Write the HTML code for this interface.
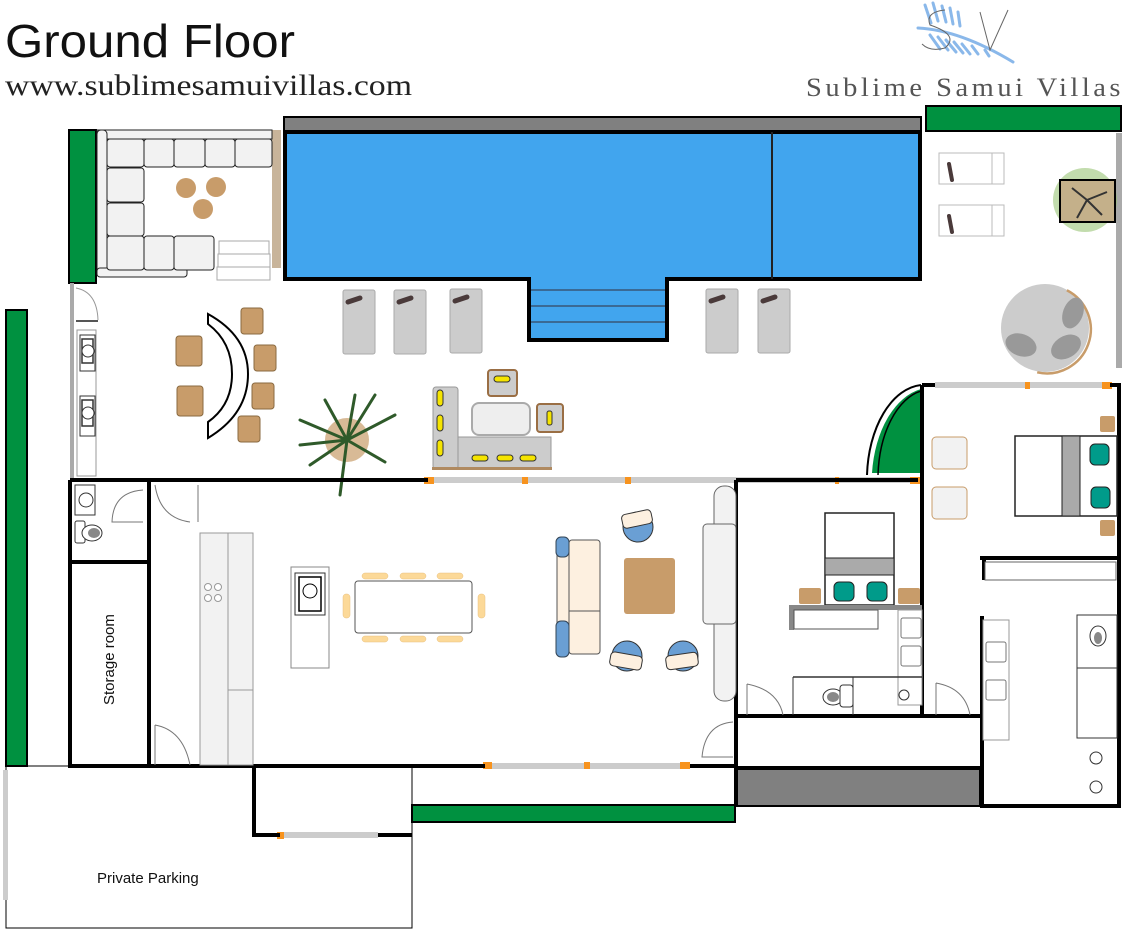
<!DOCTYPE html>
<html><head><meta charset="utf-8"><style>
body{margin:0;background:#fff;width:1142px;height:929px;overflow:hidden}
svg{display:block}
</style></head><body>
<svg width="1142" height="929" viewBox="0 0 1142 929" xmlns="http://www.w3.org/2000/svg">
<text x="5" y="57" font-family="Liberation Sans, sans-serif" font-size="46" fill="#111" textLength="290" lengthAdjust="spacingAndGlyphs">Ground Floor</text>
<text x="5" y="95" font-family="Liberation Serif, serif" font-size="30" fill="#222" textLength="407" lengthAdjust="spacingAndGlyphs">www.sublimesamuivillas.com</text>
<text x="806" y="96" font-family="Liberation Serif, serif" font-size="26" letter-spacing="3.2" fill="#555" textLength="318" lengthAdjust="spacingAndGlyphs">Sublime Samui Villas</text>
<!-- logo -->
<g stroke="#8ab8ea" stroke-width="3" stroke-linecap="round" fill="none">
<path d="M918 28 Q960 30 1013 62"/>
<path d="M925 5 l6 18 M933 3 l5 18 M942 6 l4 16 M950 8 l3 16 M958 12 l2 14 M930 35 l10 14 M938 37 l10 13 M946 40 l10 12 M954 42 l9 11 M962 44 l8 10 M972 46 l6 8 M985 50 l4 6"/>
</g>
<path d="M980 12 L990 50 L1008 10" stroke="#666" fill="none" stroke-width="1"/>
<path d="M945 10 Q925 12 930 25 Q960 35 945 48 Q930 52 922 44" stroke="#666" fill="none" stroke-width="1"/>
<!-- green bars -->
<rect x="69" y="130" width="27" height="153" fill="#009140" stroke="#000" stroke-width="2"/>
<rect x="6" y="310" width="21" height="456" fill="#009140" stroke="#000" stroke-width="2"/>
<rect x="926" y="106" width="195" height="25" fill="#009140" stroke="#000" stroke-width="2"/>
<rect x="412" y="805" width="323" height="17" fill="#009140" stroke="#000" stroke-width="2"/>
<!-- pool -->
<rect x="284" y="117" width="637" height="14" fill="#808080" stroke="#000" stroke-width="2"/>
<path d="M285 132 H920 V279 H667 V340 H529 V279 H285 Z" fill="#41a5ee" stroke="#000" stroke-width="4"/>
<line x1="772" y1="132" x2="772" y2="279" stroke="#222" stroke-width="2"/>
<line x1="531" y1="290" x2="665" y2="290" stroke="#3a6a95" stroke-width="2"/>
<line x1="531" y1="306" x2="665" y2="306" stroke="#3a6a95" stroke-width="2"/>
<line x1="531" y1="322" x2="665" y2="322" stroke="#3a6a95" stroke-width="2"/>
<!-- sofa top-left -->
<rect x="272" y="130" width="9" height="138" fill="#c8b49a"/>
<rect x="97" y="130" width="175" height="9" fill="#f2f2f2" stroke="#222" stroke-width="1"/>
<rect x="97" y="130" width="10" height="146" rx="4" fill="#f2f2f2" stroke="#222"/>
<rect x="97" y="268" width="90" height="9" rx="3" fill="#f2f2f2" stroke="#222"/>
<g fill="#f2f2f2" stroke="#222" stroke-width="1">
<rect x="107" y="139" width="37" height="28" rx="3"/><rect x="144" y="139" width="30" height="28" rx="3"/><rect x="174" y="139" width="31" height="28" rx="3"/><rect x="205" y="139" width="30" height="28" rx="3"/><rect x="235" y="139" width="37" height="28" rx="3"/>
<rect x="107" y="168" width="37" height="34" rx="3"/><rect x="107" y="203" width="37" height="33" rx="3"/><rect x="107" y="236" width="37" height="34" rx="3"/>
<rect x="144" y="236" width="30" height="34" rx="3"/><rect x="174" y="236" width="40" height="34" rx="3"/>
</g>
<g fill="#fff" stroke="#aaa"><rect x="219" y="241" width="50" height="13"/><rect x="218" y="254" width="52" height="13"/><rect x="217" y="267" width="53" height="13"/></g>
<g fill="#c89c6a"><circle cx="186" cy="188" r="10"/><circle cx="216" cy="187" r="10"/><circle cx="203" cy="209" r="10"/></g>
<!-- left outdoor bathroom column -->
<rect x="70" y="283" width="4" height="195" fill="#aaa"/>
<path d="M76 288 Q97 292 98 320" stroke="#999" fill="none"/>
<line x1="76" y1="321" x2="98" y2="321" stroke="#555" stroke-width="2"/>
<rect x="77" y="330" width="19" height="146" fill="#fff" stroke="#999"/>
<g fill="#fff" stroke="#333"><rect x="80" y="335" width="15" height="36"/><rect x="82" y="339" width="11" height="24" stroke-width="1.5"/><circle cx="88" cy="351" r="6"/><rect x="80" y="396" width="15" height="40"/><rect x="82" y="400" width="11" height="26" stroke-width="1.5"/><circle cx="88" cy="413" r="6"/></g>
<!-- curved bar & chairs -->
<path d="M208 314 Q248 336 248 374 Q248 414 208 438 V422 Q232 405 232 374 Q232 342 208 324 Z" fill="#fff" stroke="#000" stroke-width="2"/>
<g fill="#c89c6a" stroke="#8a6a40" stroke-width="1">
<rect x="176" y="336" width="26" height="30" rx="3"/><rect x="177" y="386" width="26" height="30" rx="3"/>
<rect x="241" y="308" width="22" height="26" rx="3"/><rect x="254" y="345" width="22" height="26" rx="3"/><rect x="252" y="383" width="22" height="26" rx="3"/><rect x="238" y="416" width="22" height="26" rx="3"/>
</g>
<!-- sun loungers -->
<g fill="#ccc" stroke="#aaa">
<rect x="343" y="290" width="32" height="64" rx="2"/><rect x="394" y="290" width="32" height="64" rx="2"/><rect x="450" y="289" width="32" height="64" rx="2"/><rect x="706" y="289" width="32" height="64" rx="2"/><rect x="758" y="289" width="32" height="64" rx="2"/>
</g>
<g stroke="#4a3a3a" stroke-width="5" stroke-linecap="round"><line x1="348" y1="302" x2="360" y2="298"/><line x1="399" y1="302" x2="411" y2="298"/><line x1="455" y1="301" x2="467" y2="297"/><line x1="711" y1="301" x2="723" y2="297"/><line x1="763" y1="301" x2="775" y2="297"/></g>
<!-- palm -->
<circle cx="347" cy="440" r="22" fill="#c89c6a" opacity=".7"/>
<g stroke="#2f5a2a" stroke-width="3" stroke-linecap="round">
<line x1="347" y1="440" x2="300" y2="420"/><line x1="347" y1="440" x2="395" y2="415"/><line x1="347" y1="440" x2="310" y2="465"/><line x1="347" y1="440" x2="385" y2="462"/><line x1="347" y1="440" x2="340" y2="495"/><line x1="347" y1="440" x2="355" y2="395"/><line x1="347" y1="440" x2="325" y2="400"/><line x1="347" y1="440" x2="375" y2="395"/><line x1="347" y1="440" x2="300" y2="445"/>
</g>
<!-- outdoor lounge set -->
<rect x="433" y="387" width="25" height="82" rx="3" fill="#ccc" stroke="#999"/>
<rect x="458" y="437" width="93" height="32" fill="#ccc" stroke="#999"/>
<rect x="432" y="467" width="120" height="3" fill="#b08a60"/>
<rect x="488" y="370" width="29" height="26" rx="3" fill="#ccc" stroke="#9a6e44" stroke-width="2"/>
<rect x="537" y="404" width="26" height="28" rx="3" fill="#ccc" stroke="#9a6e44" stroke-width="2"/>
<rect x="472" y="403" width="58" height="32" rx="7" fill="#eee" stroke="#aaa" stroke-width="2"/>
<g fill="#f5e400" stroke="#333" stroke-width="1"><rect x="437" y="390" width="6" height="16" rx="3"/><rect x="437" y="415" width="6" height="16" rx="3"/><rect x="437" y="440" width="6" height="16" rx="3"/><rect x="472" y="455" width="16" height="6" rx="3"/><rect x="497" y="455" width="16" height="6" rx="3"/><rect x="520" y="455" width="16" height="6" rx="3"/><rect x="494" y="376" width="16" height="6" rx="3"/><rect x="547" y="411" width="5" height="14" rx="2"/></g>
<!-- top-right area -->
<rect x="1116" y="133" width="6" height="235" fill="#aaa"/>
<g fill="#fff" stroke="#bbb"><rect x="939" y="153" width="65" height="31"/><line x1="992" y1="153" x2="992" y2="184"/><rect x="939" y="205" width="65" height="31"/><line x1="992" y1="205" x2="992" y2="236"/></g>
<g stroke="#4a3a3a" stroke-width="4" stroke-linecap="round"><line x1="949" y1="164" x2="952" y2="180"/><line x1="949" y1="216" x2="952" y2="232"/></g>
<circle cx="1085" cy="200" r="32" fill="#8fbf6a" opacity=".55"/>
<rect x="1060" y="180" width="55" height="42" fill="#c4b08a" stroke="#000" stroke-width="2"/>
<path d="M1087 200 l-15 -12 M1087 200 l20 -8 M1087 200 l-10 18 M1087 200 l15 15" stroke="#333" stroke-width="2"/>
<circle cx="1045" cy="328" r="44" fill="#ccc"/>
<path d="M1060 287 A44 44 0 0 1 1045 373" stroke="#c89c6a" stroke-width="2.5" fill="none" transform="rotate(10 1045 328)"/>
<g fill="#999"><ellipse cx="1073" cy="313" rx="10" ry="16" transform="rotate(20 1073 313)"/><ellipse cx="1021" cy="345" rx="16" ry="11" transform="rotate(20 1021 345)"/><ellipse cx="1066" cy="347" rx="16" ry="11" transform="rotate(-30 1066 347)"/></g>
<!-- glass strips -->
<g fill="#ccc"><rect x="428" y="477" width="490" height="6"/><rect x="485" y="763" width="205" height="6"/><rect x="935" y="382" width="175" height="6"/><rect x="280" y="832" width="98" height="6"/></g>
<g fill="#f7931e"><rect x="424" y="477" width="10" height="7"/><rect x="522" y="477" width="6" height="7"/><rect x="625" y="477" width="6" height="7"/><rect x="910" y="477" width="10" height="7"/><rect x="483" y="762" width="9" height="7"/><rect x="584" y="762" width="6" height="7"/><rect x="680" y="762" width="10" height="7"/><rect x="1025" y="382" width="5" height="7"/><rect x="1102" y="382" width="10" height="7"/><rect x="277" y="832" width="7" height="7"/><rect x="835" y="477" width="4" height="7"/></g>
<!-- green quarter -->
<path d="M921 389 A60 95 0 0 0 872 473 H921 Z" fill="#009140"/>
<path d="M921 385 A58 95 0 0 0 867 475" stroke="#000" stroke-width="2" fill="none"/>
<path d="M921 391 A52 90 0 0 0 878 475" stroke="#000" stroke-width="1.5" fill="none"/>
<!-- walls -->
<g stroke="#000" stroke-width="4" fill="none">
<path d="M70 480 H428 M918 480 H736 M70 480 V766 H485 M690 766 H736"/>
<line x1="149" y1="480" x2="149" y2="766"/>
<line x1="70" y1="562" x2="149" y2="562"/>
<path d="M736 480 V806"/>
<path d="M922 385 V716 M922 385 H935 M1110 385 H1119 V806 H980"/>
<line x1="736" y1="716" x2="980" y2="716"/>
<path d="M980 558 H1119 M984 558 V580"/>
<path d="M982 616 V806"/>
<path d="M254 766 V835 H280 M378 835 H412"/>
<line x1="736" y1="768" x2="980" y2="768"/>
</g>
<rect x="737" y="769" width="243" height="37" fill="#808080" stroke="#000" stroke-width="2"/>
<rect x="6" y="766" width="406" height="162" fill="none" stroke="#000" stroke-width="1"/>
<rect x="3" y="770" width="5" height="130" fill="#ccc"/>
<!-- small bathroom & storage -->
<rect x="75" y="485" width="20" height="30" fill="#fff" stroke="#333"/><circle cx="86" cy="500" r="7" fill="#fff" stroke="#333"/>
<rect x="75" y="521" width="10" height="22" rx="2" fill="#fff" stroke="#333"/><ellipse cx="92" cy="533" rx="10" ry="8" fill="#fff" stroke="#333"/><ellipse cx="94" cy="533" rx="6" ry="5" fill="#888"/>
<path d="M143 490 Q113 492 112 522 H143" stroke="#777" fill="none"/>
<text transform="translate(114 705) rotate(-90)" font-family="Liberation Sans, sans-serif" font-size="15" fill="#111">Storage room</text>
<text x="97" y="883" font-family="Liberation Sans, sans-serif" font-size="15" fill="#111">Private Parking</text>
<!-- kitchen -->
<path d="M155 485 Q160 518 190 522 M198 485 V522" stroke="#777" fill="none"/>
<path d="M155 725 Q183 730 190 765 M155 725 V765" stroke="#777" fill="none"/>
<rect x="200" y="533" width="28" height="232" fill="#f2f2f2" stroke="#999"/>
<rect x="228" y="533" width="25" height="157" fill="#f2f2f2" stroke="#999"/><rect x="228" y="690" width="25" height="75" fill="#f2f2f2" stroke="#999"/>
<g fill="#fff" stroke="#999"><circle cx="208" cy="587" r="3.5"/><circle cx="218" cy="587" r="3.5"/><circle cx="208" cy="598" r="3.5"/><circle cx="218" cy="598" r="3.5"/></g>
<rect x="291" y="567" width="38" height="101" fill="#fff" stroke="#888"/><rect x="295" y="573" width="30" height="42" fill="#fff" stroke="#333"/><rect x="299" y="577" width="22" height="34" fill="#fff" stroke="#000" stroke-width="1.5"/><circle cx="310" cy="591" r="7" fill="#fff" stroke="#000"/>
<g fill="#fcd998" stroke="#e8c080" stroke-width=".5"><rect x="362" y="573" width="26" height="6" rx="3"/><rect x="400" y="573" width="26" height="6" rx="3"/><rect x="437" y="573" width="26" height="6" rx="3"/><rect x="362" y="636" width="26" height="6" rx="3"/><rect x="400" y="636" width="26" height="6" rx="3"/><rect x="437" y="636" width="26" height="6" rx="3"/><rect x="343" y="594" width="7" height="24" rx="3"/><rect x="478" y="594" width="7" height="24" rx="3"/></g>
<rect x="355" y="581" width="117" height="52" rx="3" fill="#fff" stroke="#555"/>
<!-- living -->
<rect x="557" y="540" width="12" height="114" rx="4" fill="#fdf0e0" stroke="#555"/>
<rect x="569" y="540" width="31" height="114" rx="3" fill="#fdf0e0" stroke="#555"/><line x1="569" y1="611" x2="600" y2="611" stroke="#555"/>
<rect x="556" y="537" width="13" height="20" rx="5" fill="#6a9fd4" stroke="#345"/><rect x="556" y="621" width="13" height="36" rx="5" fill="#6a9fd4" stroke="#345"/>
<rect x="624" y="558" width="51" height="56" rx="3" fill="#c89c6a"/>
<g stroke="#333"><circle cx="638" cy="527" r="15" fill="#6a9fd4"/><rect x="622" y="512" width="30" height="14" rx="4" fill="#fdf0e0" transform="rotate(-12 637 519)"/>
<circle cx="627" cy="656" r="15" fill="#6a9fd4"/><rect x="610" y="654" width="32" height="14" rx="4" fill="#fdf0e0" transform="rotate(10 626 661)"/>
<circle cx="683" cy="656" r="15" fill="#6a9fd4"/><rect x="666" y="654" width="32" height="14" rx="4" fill="#fdf0e0" transform="rotate(-8 682 661)"/></g>
<rect x="714" y="486" width="22" height="215" rx="10" fill="#f2f2f2" stroke="#666"/><rect x="703" y="524" width="33" height="100" rx="4" fill="#f2f2f2" stroke="#666"/>
<path d="M733 722 Q705 724 702 757 H733" stroke="#777" fill="none"/>
<!-- bedroom 1 -->
<rect x="825" y="513" width="69" height="92" fill="#fff" stroke="#222" stroke-width="1.5"/>
<rect x="825" y="558" width="69" height="17" fill="#aaa" stroke="#222"/>
<rect x="834" y="582" width="20" height="19" rx="5" fill="#009b8a" stroke="#222"/><rect x="867" y="582" width="20" height="19" rx="5" fill="#009b8a" stroke="#222"/>
<rect x="799" y="588" width="22" height="16" rx="2" fill="#c89c6a"/><rect x="898" y="588" width="22" height="16" rx="2" fill="#c89c6a"/>
<rect x="789" y="605" width="133" height="5" fill="#888"/><rect x="789" y="605" width="5" height="25" fill="#888"/>
<rect x="794" y="610" width="84" height="19" fill="#fff" stroke="#555"/>
<rect x="898" y="610" width="24" height="95" fill="#fff" stroke="#999"/>
<g fill="#fff" stroke="#777"><rect x="901" y="618" width="20" height="20" rx="2"/><rect x="901" y="646" width="20" height="20" rx="2"/></g>
<line x1="793" y1="677" x2="922" y2="677" stroke="#333" stroke-width="1.5"/><line x1="853" y1="677" x2="853" y2="715" stroke="#333"/><line x1="793" y1="677" x2="793" y2="715" stroke="#333"/>
<ellipse cx="833" cy="697" rx="10" ry="8" fill="#fff" stroke="#333"/><ellipse cx="833" cy="697" rx="6" ry="5" fill="#888"/><rect x="840" y="685" width="13" height="22" rx="3" fill="#fff" stroke="#333"/>
<circle cx="904" cy="695" r="5" fill="#fff" stroke="#333"/>
<path d="M747 684 Q778 690 783 715 M747 684 V715" stroke="#777" fill="none"/>
<path d="M936 683 Q965 688 970 715 M936 683 V715" stroke="#777" fill="none"/>
<!-- bedroom 2 -->
<rect x="1015" y="436" width="102" height="80" fill="#fff" stroke="#222" stroke-width="1.5"/>
<rect x="1062" y="436" width="18" height="80" fill="#aaa" stroke="#222"/>
<rect x="1090" y="444" width="19" height="21" rx="5" fill="#009b8a" stroke="#222"/><rect x="1091" y="487" width="19" height="21" rx="5" fill="#009b8a" stroke="#222"/>
<rect x="1100" y="416" width="15" height="16" rx="2" fill="#c89c6a"/><rect x="1100" y="520" width="15" height="16" rx="2" fill="#c89c6a"/>
<g fill="#f2f2f2" stroke="#c89c6a"><rect x="932" y="437" width="35" height="32" rx="4"/><rect x="932" y="487" width="35" height="32" rx="4"/></g>
<rect x="985" y="562" width="131" height="18" fill="#fff" stroke="#666"/>
<rect x="983" y="620" width="26" height="120" fill="#fff" stroke="#999"/>
<g fill="#fff" stroke="#777"><rect x="986" y="642" width="20" height="20" rx="2"/><rect x="986" y="680" width="20" height="20" rx="2"/></g>
<rect x="1077" y="615" width="40" height="53" fill="#fff" stroke="#333"/><rect x="1077" y="668" width="40" height="70" fill="#fff" stroke="#333"/>
<ellipse cx="1098" cy="636" rx="8" ry="10" fill="#fff" stroke="#333"/><ellipse cx="1098" cy="638" rx="4" ry="6" fill="#888"/>
<g fill="#fff" stroke="#333"><circle cx="1096" cy="758" r="6"/><circle cx="1096" cy="787" r="6"/></g>
</svg>
</body></html>
